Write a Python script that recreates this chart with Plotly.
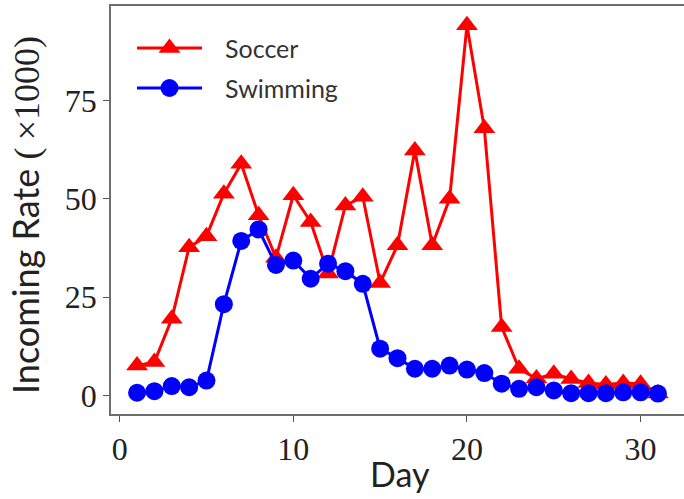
import plotly.graph_objects as go

# Daily incoming request rate (in thousands) for two event streams
days = list(range(1, 32))
soccer = [7.6, 8.5, 19.5, 37.7, 40.5, 51.3, 58.9, 45.8, 35.0, 50.9,
          44.1, 31.0, 48.3, 50.5, 28.6, 38.2, 62.3, 38.2, 50.0, 94.1,
          67.9, 17.4, 6.8, 4.3, 5.5, 4.2, 3.2, 2.8, 3.2, 3.0, 0.5]
swimming = [0.7, 1.1, 2.4, 2.1, 3.8, 23.2, 39.3, 42.2, 33.2, 34.3,
            29.7, 33.5, 31.6, 28.4, 11.9, 9.5, 6.8, 6.8, 7.6, 6.6,
            5.7, 3.0, 1.7, 2.1, 1.3, 0.6, 0.6, 0.6, 0.8, 0.8, 0.5]

x_ticks = [0, 10, 20, 30]
y_ticks = [0, 25, 50, 75]
series_names = ["Soccer", "Swimming"]
series_colors = ["#ff0000", "#0000ff"]
series_symbols = ["triangle-up", "circle"]
series_sizes = [19, 18]

W, H = 684, 499
ML, MR, MT, MB = 111, 0, 6, 85
PW, PH = W - ML - MR, H - MT - MB

SERIF = "Liberation Serif, DejaVu Serif, serif"
SANS = "Lato, Noto Sans, sans-serif"

fig = go.Figure()

for name, vals, col, sym, sz in zip(series_names, [soccer, swimming],
                                    series_colors, series_symbols, series_sizes):
    fig.add_trace(go.Scatter(
        x=days, y=vals, name=name, mode="lines+markers",
        line=dict(color=col, width=3),
        marker=dict(symbol=sym, size=sz, color=col, line=dict(width=0)),
        showlegend=False,
    ))

# Legend drawn on a pixel-space overlay so the key lines can be long
leg_x0, leg_x1, leg_text_x = 137, 202, 223
leg_rows = [48, 88]
for name, col, sym, sz, ry in zip(series_names, series_colors, series_symbols,
                                  series_sizes, leg_rows):
    fig.add_trace(go.Scatter(
        x=[leg_x0, leg_x1], y=[ry, ry], xaxis="x2", yaxis="y2", mode="lines",
        line=dict(color=col, width=3),
        showlegend=False, hoverinfo="skip",
    ))
    fig.add_trace(go.Scatter(
        x=[(leg_x0 + leg_x1) / 2], y=[ry], xaxis="x2", yaxis="y2", mode="markers",
        marker=dict(symbol=sym, size=sz, color=col, opacity=1, line=dict(width=0)),
        showlegend=False, hoverinfo="skip",
    ))
    fig.add_annotation(x=leg_text_x, y=ry, xref="x2", yref="y2", text=name,
                       showarrow=False, xanchor="left", yanchor="middle",
                       font=dict(family=SANS, size=25, color="#333333"))

axis_common = dict(
    showgrid=False, zeroline=False, showline=True, linecolor="#6e6e6e",
    linewidth=1.5, ticks="outside", ticklen=6, tickwidth=1.2,
    tickcolor="#555555", tickfont=dict(family=SERIF, size=32, color="#222222"),
)

fig.update_layout(
    width=W, height=H,
    margin=dict(l=ML, r=MR, t=MT, b=MB, pad=0),
    paper_bgcolor="white", plot_bgcolor="white",
    xaxis=dict(range=[-0.5, 32.5], tickvals=x_ticks, mirror=True, **axis_common),
    yaxis=dict(range=[-4.7, 99.0], tickvals=y_ticks, **axis_common),
    xaxis2=dict(overlaying="x", range=[ML, W - MR], visible=False, fixedrange=True),
    yaxis2=dict(overlaying="y", range=[MT + PH, MT], visible=False, fixedrange=True),
)

# Axis titles
fig.add_annotation(
    x=(25 - ML) / PW, y=(MT + PH - 215) / PH, xref="paper", yref="paper",
    text='Incoming Rate <span style="font-family:' + SERIF + '">(\u2009×1000)</span>',
    textangle=-90, showarrow=False, xanchor="center", yanchor="middle",
    font=dict(family=SANS, size=36, color="#222222"),
)
fig.add_annotation(
    x=(400 - ML) / PW, y=(MT + PH - 473) / PH, xref="paper", yref="paper",
    text="Day", showarrow=False, xanchor="center", yanchor="middle",
    font=dict(family=SANS, size=34, color="#222222"),
)

fig.write_html("out.html")
